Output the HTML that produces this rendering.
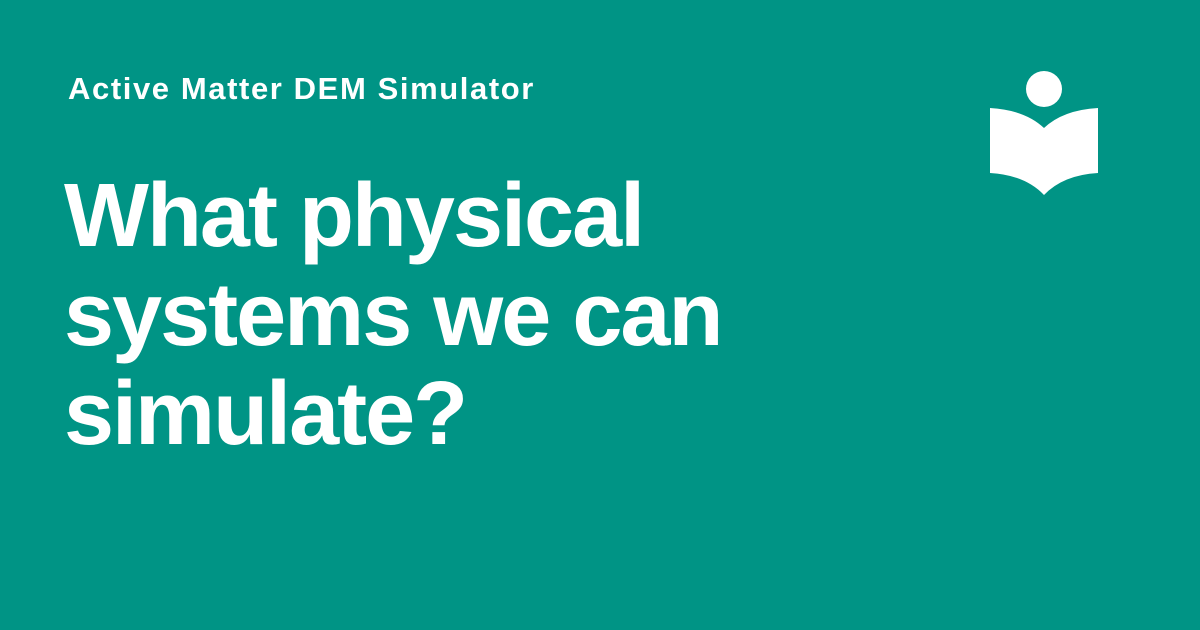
<!DOCTYPE html>
<html><head><meta charset="utf-8"><style>
body{margin:0;width:1200px;height:630px;background:#009485;overflow:hidden;position:relative;font-family:"Liberation Sans",sans-serif;color:#fff}
#sub{position:absolute;left:68px;top:71px;font-size:31px;font-weight:bold;margin:0;line-height:36px;letter-spacing:1.6px}
#title{position:absolute;left:64px;top:167px;font-size:90px;font-weight:bold;line-height:99px;margin:0;letter-spacing:-2px}
svg{position:absolute;left:0;top:0}
</style></head><body>
<p id="sub">Active Matter DEM Simulator</p>
<h1 id="title">What physical<br>systems we can<br>simulate?</h1>
<svg width="1200" height="630">
<circle cx="1044" cy="89" r="18" fill="#fff"/>
<path d="M990 108 Q1025 110 1044 128 Q1063 110 1098 108 L1098 173 Q1063 175 1044 195 Q1025 175 990 173 Z" fill="#fff"/>
</svg>
</body></html>
